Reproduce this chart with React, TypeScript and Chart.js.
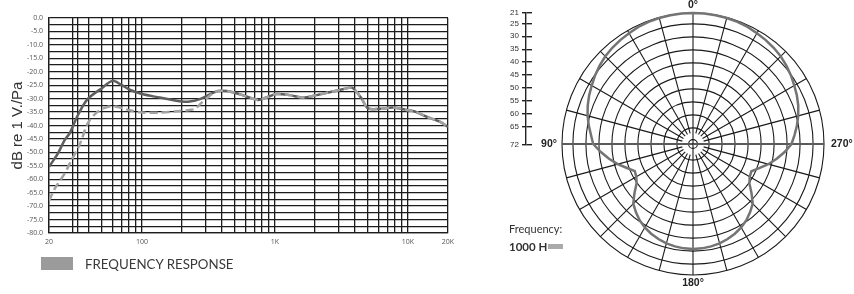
import React, { useEffect, useRef } from 'react';
import { Chart, registerables } from 'chart.js';

Chart.register(...registerables);

// ---------------- Frequency response (left chart) ----------------
const solidFreqs = [20, 23.4, 26.2, 28.6, 33, 39, 50, 60, 70, 81, 100, 136, 170, 200, 229, 272, 352, 395, 483, 610, 745, 862, 1026, 1290, 1626, 2048, 2580, 3248, 3756, 3976, 4460, 5000, 6124, 7710, 9727, 11240, 13770, 17330, 20000];
const solidDb = [-55.4, -50.3, -45.4, -42.9, -36.1, -30.2, -26.1, -23.4, -24.9, -26.7, -28.3, -29.6, -30.5, -31.1, -31.1, -30.2, -27.6, -27.1, -27.6, -29.2, -30.5, -29.6, -28.3, -28.7, -29.6, -28.7, -27.6, -26.5, -25.9, -26.7, -29.8, -33.6, -33.8, -33.3, -34.2, -34.8, -36.7, -38.6, -40.5];

const dashFreqs = [20, 22.1, 26.2, 29.5, 33, 35.1, 39.2, 45.4, 54.1, 64.6, 78.6, 96.1, 136, 193, 229, 250, 280, 322, 352, 395, 483, 610, 745, 862, 1026, 1290, 1626, 2048, 2580, 3248, 3756, 3976, 4460, 5000, 6124, 7710, 9727, 11240, 13770, 17330, 20000];
const dashDb = [-68, -63.5, -57.9, -52.9, -48.5, -45.4, -39.1, -35.3, -33.2, -33.0, -34.2, -35.1, -35.2, -34.6, -34.2, -33.8, -31.6, -29.0, -27.6, -27.1, -27.6, -29.2, -30.5, -29.6, -28.3, -28.7, -29.6, -28.7, -27.6, -26.5, -25.9, -26.7, -29.8, -33.6, -33.8, -33.3, -34.2, -34.8, -36.7, -38.6, -40.5];

const gridFreqs = [20, 30, 33, 40, 50, 60, 70, 80, 90, 100, 200, 300, 400, 500, 600, 700, 800, 900, 1000, 2000, 3000, 4000, 5000, 6000, 7000, 8000, 9000, 10000, 20000];
const xTickValues = [20, 100, 1000, 10000, 20000];
const xTickLabels = ['20', '100', '1K', '10K', '20K'];
const yAxisTitle = 'dB re 1 V./Pa';
const legendText = 'FREQUENCY RESPONSE';

// ---------------- Polar pattern (right chart) ----------------
const angleStep = 5;
const polarAngles = Array.from({ length: 360 / angleStep }, (_, i) => i * angleStep); // clockwise from top
const polarDb1000 = [
  20.8, 20.8, 20.9, 21.0, 21.2, 21.5, 22.0, 22.4, 22.9, 23.5, 24.3, 25.2, 26.2, 27.1, 28.1, 29.3, 30.6, 32.0,
  33.3, 35.8, 38.5, 41.2, 44.1, 46.4, 46.0, 44.7, 41.8, 38.7, 37.0, 35.4, 34.1, 33.1, 32.3, 31.6, 31.2, 30.9,
  30.8, 30.9, 31.2, 31.6, 32.3, 33.1, 34.1, 35.4, 37.0, 38.7, 41.8, 44.7, 46.0, 46.5, 44.2, 41.2, 38.4, 35.6,
  32.8, 31.8, 30.5, 29.2, 28.1, 27.1, 26.2, 25.2, 24.3, 23.5, 22.9, 22.4, 22.0, 21.5, 21.2, 21.0, 20.9, 20.8,
];
const ringValues = [69.5, 65, 60, 55, 50, 45, 40, 35, 30, 25, 20.8];
const polarAxisAngles = [0, 90, 180, 270];
const polarAxisLabels = ['0°', '90°', '180°', '270°'];
const indicatorTicks = [21, 25, 30, 35, 40, 45, 50, 55, 60, 65, 72];
const freqCaption = 'Frequency:';
const freqValueLabel = '1000 H';

const degreeLabelPlugin = {
  id: 'degreeLabels',
  afterDraw(chart: any) {
    const scale = chart.scales.r;
    const ctx = chart.ctx;
    ctx.save();
    ctx.font = 'bold 10.5px "Liberation Sans", Arial, sans-serif';
    ctx.fillStyle = '#222';
    ctx.textBaseline = 'middle';
    polarAxisAngles.forEach((deg, k) => {
      const index = ((360 - deg) % 360) / angleStep;
      let gap = 8;
      let align: CanvasTextAlign = 'center';
      if (deg === 90) { gap = 5; align = 'right'; }
      if (deg === 270) { gap = 7; align = 'left'; }
      const p = scale.getPointPosition(index, scale.drawingArea + gap);
      ctx.textAlign = align;
      ctx.fillText(polarAxisLabels[k], p.x, p.y);
    });
    ctx.restore();
  },
};

const isMainAxis = (i: number) => i % 18 === 0;
const isHorizontalAxis = (i: number) => i % 18 === 0 && (i / 18) % 2 === 1;

export default function App() {
  const freqRef = useRef<HTMLCanvasElement>(null);
  const polarRef = useRef<HTMLCanvasElement>(null);
  const indRef = useRef<HTMLCanvasElement>(null);

  useEffect(() => {
    const gridColor = '#1c1c1c';
    const freqChart = new Chart(freqRef.current as HTMLCanvasElement, {
      type: 'line',
      data: {
        datasets: [
          {
            label: legendText + ' (cut)',
            data: dashFreqs.map((f, i) => ({ x: f, y: dashDb[i] })),
            borderColor: '#a2a2a2',
            borderWidth: 2.5,
            borderDash: [8, 4],
            pointRadius: 0,
            tension: 0.3,
            fill: false,
          },
          {
            label: legendText,
            data: solidFreqs.map((f, i) => ({ x: f, y: solidDb[i] })),
            borderColor: '#5e5e5e',
            borderWidth: 2.5,
            pointRadius: 0,
            tension: 0.3,
            fill: false,
          },
        ],
      },
      options: {
        animation: false,
        responsive: false,
        maintainAspectRatio: false,
        layout: { padding: { left: 0, top: 18, right: 22, bottom: 41 } },
        plugins: { legend: { display: false }, tooltip: { enabled: false } },
        scales: {
          x: {
            type: 'logarithmic',
            min: 20,
            max: 20000,
            afterBuildTicks: (axis: any) => { axis.ticks = gridFreqs.map((v) => ({ value: v })); },
            afterFit: (axis: any) => { axis.height = 20; },
            grid: { color: gridColor, lineWidth: 1.3, drawTicks: false },
            border: { color: gridColor, width: 1.3 },
            ticks: {
              autoSkip: false,
              maxRotation: 0,
              padding: 5,
              color: '#555',
              font: { size: 7, family: '"Open Sans", sans-serif' },
              callback: (v: any) => {
                const i = xTickValues.indexOf(Number(v));
                return i >= 0 ? xTickLabels[i] : '';
              },
            },
          },
          y: {
            type: 'linear',
            min: -80,
            max: 0,
            afterFit: (axis: any) => { axis.width = 49; },
            grid: { color: gridColor, lineWidth: 1.3, drawTicks: false },
            border: { color: gridColor, width: 1.3 },
            ticks: {
              stepSize: 2.5,
              autoSkip: false,
              padding: 6,
              color: '#555',
              font: { size: 7, family: '"Open Sans", sans-serif' },
              callback: (v: any) => (Number(v) % 5 === 0 ? Number(v).toFixed(1) : ''),
            },
            title: {
              display: true,
              text: yAxisTitle,
              color: '#333',
              font: { size: 15, family: '"Liberation Sans", Arial, sans-serif' },
              padding: { top: 8.5, bottom: 0 },
            },
          },
        },
      } as any,
    });

    const polarChart = new Chart(polarRef.current as HTMLCanvasElement, {
      type: 'radar',
      data: {
        labels: polarAngles.map((a) => String(a)),
        datasets: [
          {
            label: '1000 Hz',
            data: polarDb1000,
            borderColor: '#747474',
            borderWidth: 2.5,
            pointRadius: 0,
            fill: false,
            tension: 0,
          },
        ],
      },
      options: {
        animation: false,
        responsive: false,
        maintainAspectRatio: false,
        layout: { padding: { left: 22, right: 30, top: 13, bottom: 19 } },
        plugins: { legend: { display: false }, tooltip: { enabled: false } },
        scales: {
          r: {
            min: 20.8,
            max: 71.2,
            reverse: true,
            afterBuildTicks: (s: any) => { s.ticks = [71.2, ...ringValues].map((v) => ({ value: v })); },
            ticks: { display: false },
            pointLabels: { display: false },
            grid: { circular: true, color: '#1a1a1a', lineWidth: 1.1 },
            angleLines: {
              display: true,
              color: (c: any) => (isHorizontalAxis(c.index) ? '#5a5a5a' : '#1a1a1a'),
              lineWidth: (c: any) => (c.index % 3 !== 0 ? 0 : isHorizontalAxis(c.index) ? 2 : 1.1),
              borderDash: (c: any) => (isMainAxis(c.index) ? [] : [400, 11]),
              borderDashOffset: (c: any) => (isMainAxis(c.index) ? 0 : 400),
            },
          },
        },
      } as any,
      plugins: [degreeLabelPlugin],
    });

    const indChart = new Chart(indRef.current as HTMLCanvasElement, {
      type: 'line',
      data: { datasets: [] },
      options: {
        animation: false,
        responsive: false,
        maintainAspectRatio: false,
        layout: { padding: { left: 0, top: 13, right: 0, bottom: 15 } },
        plugins: { legend: { display: false }, tooltip: { enabled: false } },
        scales: {
          x: { type: 'linear', display: false },
          y: {
            type: 'linear',
            min: 21,
            max: 72,
            reverse: true,
            afterBuildTicks: (s: any) => { s.ticks = indicatorTicks.map((v) => ({ value: v })); },
            afterFit: (s: any) => { s.width = 46; },
            grid: { color: '#222', lineWidth: 1.4, tickLength: 4, drawTicks: true },
            border: { color: '#222', width: 1.4 },
            ticks: {
              autoSkip: false,
              padding: 3,
              color: '#333',
              font: { size: 8, family: '"Liberation Sans", Arial, sans-serif' },
              callback: (v: any) => String(v),
            },
          },
        },
      } as any,
    });

    return () => {
      freqChart.destroy();
      polarChart.destroy();
      indChart.destroy();
    };
  }, []);

  const abs = (s: React.CSSProperties): React.CSSProperties => ({ position: 'absolute', ...s });

  return (
    <div style={abs({ left: 0, top: 0, width: 854, height: 294, background: '#fff', overflow: 'hidden' })}>
      <canvas ref={freqRef} width={470} height={294} style={abs({ left: 0, top: 0, width: 470, height: 294 })} />
      <canvas ref={indRef} width={52} height={160} style={abs({ left: 480, top: 0, width: 52, height: 160 })} />
      <canvas ref={polarRef} width={314} height={294} style={abs({ left: 540, top: 0, width: 314, height: 294 })} />
      <div style={abs({ left: 41, top: 257, width: 32, height: 13, background: '#9b9b9b' })} />
      <div style={abs({ left: 85, top: 256, font: '13.3px Lato, sans-serif', lineHeight: '16px', color: '#3a3a3a', whiteSpace: 'nowrap' })}>{legendText}</div>
      <div style={abs({ left: 509, top: 222, font: '11px Lato, sans-serif', lineHeight: '13px', color: '#333', whiteSpace: 'nowrap' })}>{freqCaption}</div>
      <div style={abs({ left: 509, top: 240, font: 'bold 11.5px Lato, sans-serif', lineHeight: '13px', color: '#333', whiteSpace: 'nowrap' })}>{freqValueLabel}</div>
      <div style={abs({ left: 548, top: 244, width: 15, height: 5, background: '#aaa' })} />
    </div>
  );
}
